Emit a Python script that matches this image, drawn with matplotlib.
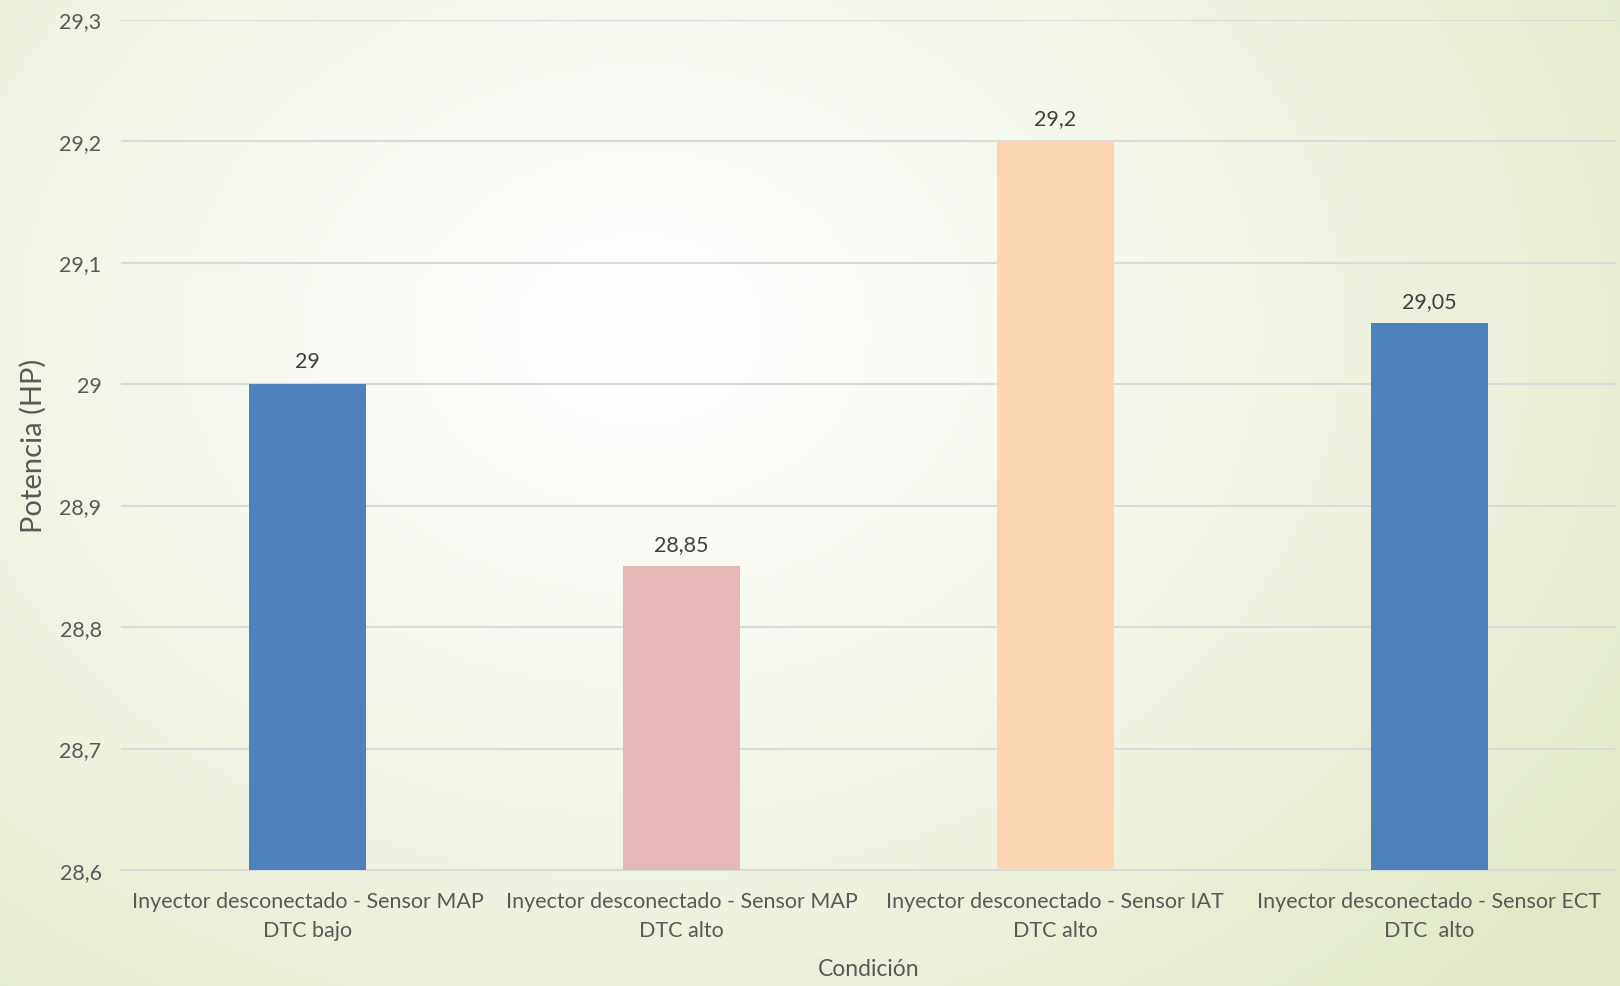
import numpy as np
import matplotlib.pyplot as plt
from matplotlib.ticker import FuncFormatter, MultipleLocator

plt.rcParams['font.family'] = ['Lato', 'DejaVu Sans']

categorias = [
    "Inyector desconectado - Sensor MAP\nDTC bajo",
    "Inyector desconectado - Sensor MAP\nDTC alto",
    "Inyector desconectado - Sensor IAT\nDTC alto",
    "Inyector desconectado - Sensor ECT\nDTC  alto",
]
potencia = [29.0, 28.85, 29.2, 29.05]
colores = ["#4F81BD", "#E6B8B7", "#FCD5B4", "#4F81BD"]

gris = "#595959"


def coma(v, pos=None):
    return f"{v:.2f}".rstrip("0").rstrip(".").replace(".", ",")


fig = plt.figure(figsize=(16.2, 9.87), dpi=100)

# fondo con degradado radial: blanco al centro, verde claro en los bordes
bg = fig.add_axes([0, 0, 1, 1], zorder=-10)
h, w = 987, 1620
yy, xx = np.mgrid[0:h, 0:w]
d = np.sqrt(((xx - 640) / 1150.0) ** 2 + ((yy - 330) / 900.0) ** 2)
d = np.clip(d, 0, 1) ** 1.2
centro = np.array([255, 255, 255]) / 255.0
borde = np.array([226, 234, 202]) / 255.0
img = centro + (borde - centro) * d[..., None]
bg.imshow(img, aspect="auto", extent=[0, 1, 0, 1])
bg.axis("off")

ax = fig.add_axes([121 / 1620, 1 - 871 / 987, (1616 - 121) / 1620, (871 - 20.5) / 987])
ax.patch.set_alpha(0)

x = np.arange(len(categorias))
barras = ax.bar(x, [p - 28.6 for p in potencia], bottom=28.6, width=0.313,
                color=colores, zorder=3)

for xi, p in zip(x, potencia):
    ax.annotate(coma(p), (xi, p), xytext=(0, 9), textcoords="offset points",
                ha="center", va="bottom", fontsize=15.5, color="#404040")

ax.set_ylim(28.6, 29.3)
ax.set_xlim(-0.5, len(categorias) - 0.5)
ax.yaxis.set_major_locator(MultipleLocator(0.1))
ax.yaxis.set_major_formatter(FuncFormatter(coma))
ax.grid(axis="y", color="#D9D9D9", linewidth=1.5, zorder=0)

for s in ["top", "right", "left"]:
    ax.spines[s].set_visible(False)
ax.spines["bottom"].set_color("#D9D9D9")
ax.spines["bottom"].set_linewidth(1.5)

ax.set_xticks(x)
ax.set_xticklabels(categorias, fontsize=15.5, color=gris, linespacing=1.6)
ax.tick_params(axis="x", length=0, pad=15)
ax.tick_params(axis="y", length=0, pad=14, labelsize=15.5, labelcolor=gris)

ax.set_ylabel("Potencia (HP)", fontsize=21, color=gris, labelpad=9)
ax.set_xlabel("Condición", fontsize=16.5, color=gris, labelpad=13)

fig.savefig("out.png", dpi=100)
